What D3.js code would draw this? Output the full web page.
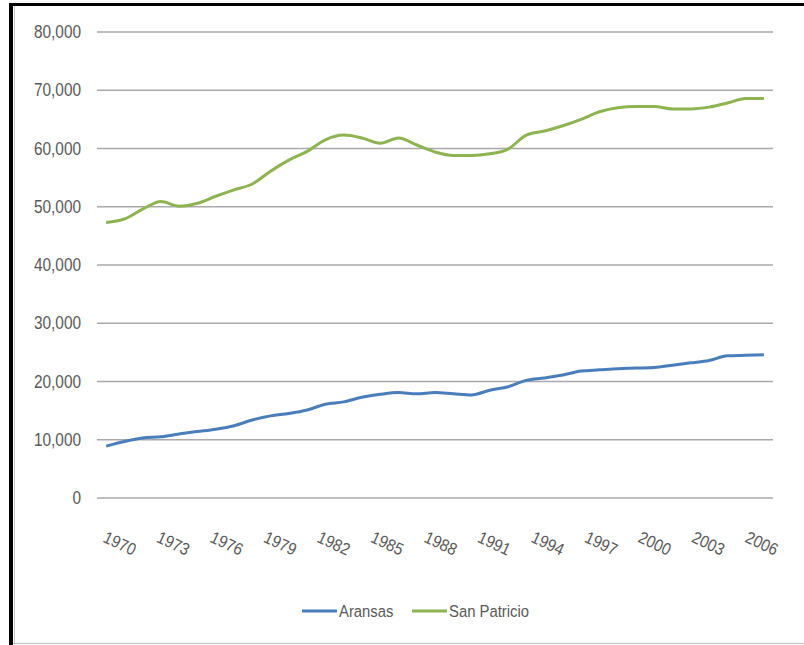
<!DOCTYPE html>
<html><head><meta charset="utf-8">
<script src="https://cdn.jsdelivr.net/npm/d3@7/dist/d3.min.js"></script>
<style>
html,body{margin:0;padding:0;background:#fff;}
svg{display:block;}
text{font-family:"Liberation Sans",Arial,sans-serif;fill:#595959;}
</style></head>
<body>
<svg id="c" width="804" height="645"></svg>
<script>
const years = d3.range(1970, 2007);
const tickYears = [1970,1973,1976,1979,1982,1985,1988,1991,1994,1997,2000,2003,2006];
const yTicks = [0,10000,20000,30000,40000,50000,60000,70000,80000];
const seriesNames = ["Aransas","San Patricio"];
const aransas = [8900,9700,10300,10500,11000,11400,11800,12400,13400,14100,14500,15100,16100,16500,17300,17800,18100,17900,18100,17900,17700,18500,19100,20200,20600,21100,21800,22000,22200,22300,22400,22800,23200,23600,24400,24500,24600];
const sanPatricio = [47300,47900,49600,50900,50100,50600,51800,52900,53900,56100,58000,59500,61500,62300,61800,60900,61800,60600,59400,58800,58800,59100,59900,62300,63000,63900,65000,66300,67000,67200,67200,66800,66800,67100,67800,68600,68600];
const colors = ["#4A7EBB","#8DB451"];

const svg = d3.select("#c");
// frame
svg.append("rect").attr("x",0).attr("y",0).attr("width",804).attr("height",645).attr("fill","#fff");
svg.append("line").attr("x1",11).attr("x2",11).attr("y1",3).attr("y2",645).attr("stroke","#000").attr("stroke-width",4);
svg.append("line").attr("x1",9).attr("x2",804).attr("y1",4.5).attr("y2",4.5).attr("stroke","#000").attr("stroke-width",3);
svg.append("line").attr("x1",14.5).attr("x2",14.5).attr("y1",6).attr("y2",645).attr("stroke","#c8c8c8").attr("stroke-width",1);
svg.append("line").attr("x1",13).attr("x2",804).attr("y1",643.5).attr("y2",643.5).attr("stroke","#c0c0c0").attr("stroke-width",1);

const x0 = 97, x1 = 773;
const x = d3.scalePoint().domain(years).range([x0, x1]).padding(0.5);
const y = d3.scaleLinear().domain([0,80000]).range([498,32]);
const xl = d3.scalePoint().domain(tickYears).range([120,762]);

// gridlines
svg.append("g").selectAll("line").data(yTicks).join("line")
  .attr("x1",x0).attr("x2",x1).attr("y1",d=>y(d)).attr("y2",d=>y(d))
  .attr("stroke","#a9a9a9").attr("stroke-width",1.5);

// y axis labels
const yAxis = d3.axisLeft(y).tickValues(yTicks).tickFormat(d3.format(",")).tickSize(0).tickPadding(0);
const gy = svg.append("g").attr("transform","translate(81,0)").call(yAxis);
gy.select(".domain").remove();
gy.selectAll("text").attr("font-size",17.5).attr("fill","#595959")
  .attr("transform","scale(0.88,1)")
  .style("font-family","'Liberation Sans',Arial,sans-serif");

// x labels
svg.append("g").selectAll("text").data(tickYears).join("text")
  .attr("transform",d=>`translate(${xl(d)},543) rotate(25) scale(0.9,1)`)
  .attr("text-anchor","middle").attr("dominant-baseline","central")
  .attr("font-size",17).text(d=>d);

// lines
const line = d3.line().x((d,i)=>x(years[i])).y(d=>y(d)).curve(d3.curveMonotoneX);
[aransas, sanPatricio].forEach((s,k)=>{
  svg.append("path").datum(s).attr("d",line).attr("fill","none")
    .attr("stroke",colors[k]).attr("stroke-width",3).attr("stroke-linejoin","round");
});

// legend
const leg = [{n:seriesNames[0],x:302},{n:seriesNames[1],x:412}];
leg.forEach((l,k)=>{
  svg.append("line").attr("x1",l.x).attr("x2",l.x+35).attr("y1",611).attr("y2",611)
    .attr("stroke",colors[k]).attr("stroke-width",3);
  svg.append("text").attr("x",l.x+37).attr("y",611).attr("dominant-baseline","central")
    .attr("font-size",16.5).attr("transform",`translate(${(l.x+37)*0.1},0) scale(0.9,1)`).text(l.n);
});
</script>
</body></html>
